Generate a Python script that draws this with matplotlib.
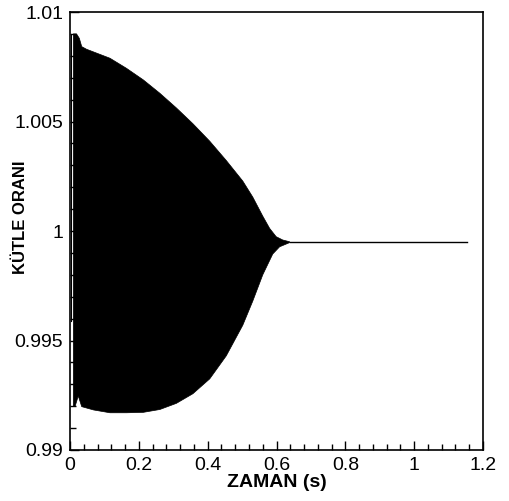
import numpy as np
import matplotlib
matplotlib.use('Agg')
import matplotlib.pyplot as plt
from matplotlib.ticker import MultipleLocator, FormatStrFormatter

plt.rcParams['font.family'] = ['Liberation Sans', 'DejaVu Sans']

# zarf (envelope) of the oscillating mass ratio
t_up = [0.0097, 0.019, 0.027, 0.034, 0.048, 0.116, 0.164, 0.213, 0.261,
        0.309, 0.357, 0.406, 0.454, 0.502, 0.531, 0.560, 0.580, 0.599,
        0.618, 0.638]
y_up = [1.00900, 1.00900, 1.00880, 1.00842, 1.00830, 1.00789, 1.00743,
        1.00690, 1.00629, 1.00562, 1.00490, 1.00410, 1.00322, 1.00228,
        1.00155, 1.00068, 1.00012, 0.99974, 0.99959, 0.99951]

t_lo = [0.0097, 0.0145, 0.024, 0.034, 0.068, 0.116, 0.164, 0.213, 0.261,
        0.309, 0.357, 0.406, 0.454, 0.502, 0.531, 0.560, 0.589, 0.609,
        0.638]
y_lo = [0.99200, 0.99198, 0.99247, 0.99198, 0.99183, 0.99170, 0.99170,
        0.99172, 0.99185, 0.99213, 0.99257, 0.99325, 0.99430, 0.99570,
        0.99680, 0.99800, 0.99895, 0.99928, 0.99947]

# after damping: steady value
t_flat = [0.638, 1.154]
y_flat = [0.9995, 0.9995]

# first transient near t=0
t_start = [0.004, 0.004]
y_start = [0.9959, 1.0090]

fig = plt.figure(figsize=(5.10, 5.01), dpi=100)
ax = fig.add_axes([0.1373, 0.1018, 0.8098, 0.8742])

ax.fill(t_up + t_lo[::-1], y_up + y_lo[::-1], color='black', lw=0.5)
ax.plot(t_flat, y_flat, color='black', lw=1.0)
ax.plot(t_start, y_start, color='black', lw=0.8)

ax.set_xlim(0, 1.2)
ax.set_ylim(0.99, 1.01)
ax.xaxis.set_major_locator(MultipleLocator(0.2))
ax.xaxis.set_minor_locator(MultipleLocator(0.04))
ax.yaxis.set_major_locator(MultipleLocator(0.005))
ax.yaxis.set_minor_locator(MultipleLocator(0.001))
ax.xaxis.set_major_formatter(FormatStrFormatter('%g'))
ax.yaxis.set_major_formatter(FormatStrFormatter('%g'))
ax.tick_params(which='both', direction='in', top=False, right=False,
               labelsize=14, pad=5)
ax.tick_params(which='major', length=6.5, width=1)
ax.tick_params(which='minor', length=4, width=1)
for s in ax.spines.values():
    s.set_linewidth(1.2)

ax.set_xlabel('ZAMAN (s)', fontsize=14, fontweight='bold', labelpad=0)
ax.set_ylabel('KÜTLE ORANI', fontsize=12, fontweight='bold')
ax.yaxis.set_label_coords(-0.102, 0.531)

fig.savefig('out.png', dpi=100)
